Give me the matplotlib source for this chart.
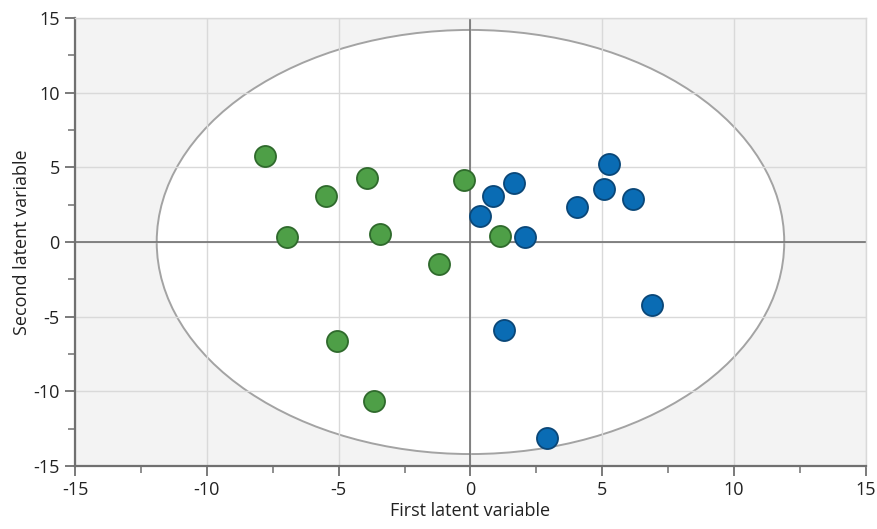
import matplotlib
matplotlib.use("Agg")
import matplotlib.pyplot as plt
from matplotlib.patches import Ellipse
from matplotlib.ticker import MultipleLocator

plt.rcParams['font.family'] = ['Open Sans', 'DejaVu Sans']
plt.rcParams['axes.unicode_minus'] = False

green_x = [-7.79, -6.96, -5.48, -3.92, -3.43, -5.06, -3.66, -1.19, -0.25, 1.12]
green_y = [5.76, 0.33, 3.08, 4.29, 0.54, -6.63, -10.65, -1.47, 4.15, 0.40]
blue_x = [0.36, 0.85, 1.65, 2.07, 1.27, 2.90, 4.04, 5.06, 5.25, 6.16, 6.88]
blue_y = [1.74, 3.08, 3.95, 0.33, -5.89, -13.13, 2.34, 3.55, 5.22, 2.88, -4.22]
ellipse_a = 11.9
ellipse_b = 14.2
ticks = [-15, -10, -5, 0, 5, 10, 15]

fig = plt.figure(figsize=(8.78, 5.29), dpi=100)
ax = fig.add_axes([0.0854, 0.1191, 0.9009, 0.8469])
ax.set_facecolor('#f3f3f3')
ax.set_xlim(-15, 15)
ax.set_ylim(-15, 15)

ell = Ellipse((0, 0), 2 * ellipse_a, 2 * ellipse_b, facecolor='white',
              edgecolor='#a3a3a3', lw=1.4, zorder=0.1)
ax.add_patch(ell)

ax.set_axisbelow(True)
ax.grid(True, which='major', color='#d9d9d9', lw=1.0)
ax.axhline(0, color='#707070', lw=1.2, zorder=1)
ax.axvline(0, color='#707070', lw=1.2, zorder=1)

ax.scatter(green_x, green_y, s=230, c='#4e9f47', edgecolors='#2f6a2c', linewidths=1.3, zorder=3)
ax.scatter(blue_x, blue_y, s=230, c='#0a6cb4', edgecolors='#0a4778', linewidths=1.3, zorder=3)

ax.set_xticks(ticks)
ax.set_yticks(ticks)
ax.xaxis.set_minor_locator(MultipleLocator(2.5))
ax.yaxis.set_minor_locator(MultipleLocator(2.5))
ax.tick_params(which='major', direction='out', length=7, width=1.3, color='#707070',
               labelsize=13, labelcolor='#222222', pad=4)
ax.tick_params(which='minor', direction='out', length=5, width=1.1, color='#707070')

for s in ['top', 'right']:
    ax.spines[s].set_color('#d9d9d9')
    ax.spines[s].set_linewidth(1.0)
for s in ['left', 'bottom']:
    ax.spines[s].set_color('#707070')
    ax.spines[s].set_linewidth(1.6)

ax.set_xlabel('First latent variable', fontsize=13, color='#222222', labelpad=2)
ax.set_ylabel('Second latent variable', fontsize=13, color='#222222', labelpad=2)

fig.savefig('out.png', dpi=100)
